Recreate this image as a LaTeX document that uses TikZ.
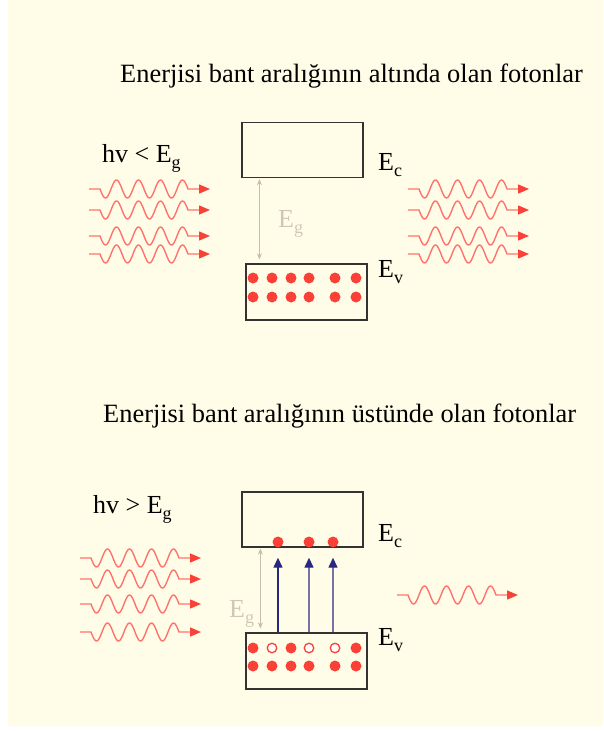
\documentclass[tikz,border=0pt]{standalone}
\usepackage{fontspec}
\setmainfont{Liberation Serif}
\usetikzlibrary{arrows.meta, positioning, calc}

\definecolor{krem}{RGB}{255,253,232}
\definecolor{elektron}{RGB}{250,65,55}
\definecolor{dalgarenk}{RGB}{255,115,110}
\definecolor{koyumavi}{RGB}{40,40,130}
\definecolor{acikmavi}{RGB}{120,115,165}
\definecolor{tenrengi}{RGB}{200,188,172}
\definecolor{tenyazi}{RGB}{208,198,184}

\newcommand{\indis}[1]{\raisebox{-6pt}{\fontsize{18}{18}\selectfont #1}}

\begin{document}
\begin{tikzpicture}[
    x=1pt, y=-1pt,
    every node/.style={font=\fontsize{26}{30}\selectfont, inner sep=0pt},
    baslik/.style={font=\fontsize{26.4}{30}\selectfont, anchor=base west},
    band/.style={draw=black!80, line width=1.2pt, minimum width=121pt, minimum height=55pt},
    dolu/.style={circle, fill=elektron, minimum size=11pt},
    bos/.style={circle, draw=elektron, fill=white, line width=1.3pt, minimum size=9.5pt},
    aralik/.style={{Stealth[length=6pt,width=5pt]}-{Stealth[length=6pt,width=5pt]}, tenrengi, line width=1.2pt},
    uyar/.style={-{Triangle[length=10pt,width=9pt,color=koyumavi]}, line width=1.4pt},
    foton/.pic={
      \draw[dalgarenk, line width=1.4pt, -{Triangle[length=11pt,width=9pt,color=elektron]}]
        (0,0) -- (11,0) -- plot[domain=0:88, samples=90] ({\x+11},{9*sin(\x*16.3636)}) -- (121,0);
    },
  ]
  % Background
  \useasboundingbox (0,0) rectangle (603,731);
  \fill[krem] (8,0) rectangle (603,726);

  % --- Top: photons below the gap ---
  \node[baslik] (baslik1) at (120,82) {Enerjisi bant aralığının altında olan fotonlar};
  \node[anchor=base west] (hv1) at (102,162) {hv < E\indis{g}};

  \node[band] (cb1) at (302.5,150) {};
  \node[band, minimum height=56pt] (vb1) at (306.5,292) {};
  \node[anchor=base west] (ec1) at (378,170) {E\indis{c}};
  \node[anchor=base west] (ev1) at (378,277) {E\indis{v}};

  % Band gap
  \draw[aralik] ([xshift=18pt,yshift=-1pt]cb1.south west) -- ([xshift=14pt,yshift=4pt]vb1.north west);
  \node[tenyazi, anchor=base west] (eg1) at (278,227) {E\indis{g}};

  % Valence electrons
  \foreach \x [count=\i] in {253,272,291,309,335,356} {
    \node[dolu] (a\i) at (\x,278) {};
    \node[dolu] (b\i) at (\x,297) {};
  }

  % Photons in and out
  \foreach \yy in {189,210,236,254} {
    \pic at (89,\yy) {foton};
    \pic at (408,\yy) {foton};
  }

  % --- Bottom: photons above the gap ---
  \node[baslik] (baslik2) at (103,422) {Enerjisi bant aralığının üstünde olan fotonlar};
  \node[anchor=base west] (hv2) at (93,513) {hv > E\indis{g}};

  \node[band] (cb2) at (302.5,519.5) {};
  \node[band, minimum height=56pt] (vb2) at (306.5,661) {};
  \node[anchor=base west] (ec2) at (378,541) {E\indis{c}};
  \node[anchor=base west] (ev2) at (378,645) {E\indis{v}};

  % Band gap
  \draw[aralik] ([xshift=19pt,yshift=-1pt]cb2.south west) -- ([xshift=15pt,yshift=4pt]vb2.north west);
  \node[tenyazi, anchor=base west] (eg2) at (229,617) {E\indis{g}};

  % Valence band: electrons and holes
  \foreach \x/\tur [count=\i] in {253/dolu,272/bos,291/dolu,309/bos,335/bos,356/dolu} {
    \node[\tur] (c\i) at (\x,648) {};
  }
  \foreach \x [count=\i] in {253,272,291,309,335,356} {
    \node[dolu] (d\i) at (\x,666) {};
  }

  % Excited electrons
  \node[dolu] (e1) at (278,542) {};
  \node[dolu] (e2) at (309,542) {};
  \node[dolu] (e3) at (333,542) {};

  % Transitions
  \draw[uyar, koyumavi, shorten >=10pt] (e1 |- vb2.north) -- (e1.south);
  \draw[uyar, acikmavi, shorten >=10pt] (e2 |- vb2.north) -- (e2.south);
  \draw[uyar, acikmavi, shorten >=10pt] (e3 |- vb2.north) -- (e3.south);

  % Photons in, one out
  \foreach \yy in {558,579,604,632} {
    \pic at (80,\yy) {foton};
  }
  \pic at (397,595) {foton};
\end{tikzpicture}
\end{document}
